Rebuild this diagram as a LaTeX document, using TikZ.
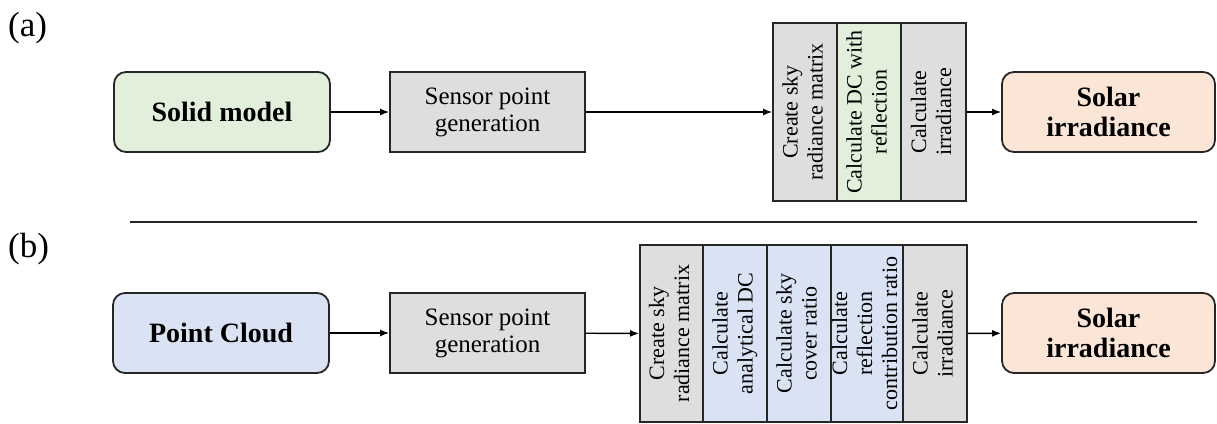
\documentclass[tikz,border=0pt]{standalone}
\usepackage{fontspec}
\setmainfont{Liberation Serif}
\usetikzlibrary{arrows.meta}

\definecolor{greyfill}{HTML}{DEDEDE}
\definecolor{greenfill}{HTML}{E2EFDA}
\definecolor{bluefill}{HTML}{DAE3F3}
\definecolor{pinkfill}{HTML}{FBE5D6}
\definecolor{edge}{HTML}{262626}

% vertical (bottom-to-top) multi-line label; zero width so the column keeps its set width
\newcommand{\vlabel}[1]{\makebox[0pt]{\rotatebox{90}{\fontsize{22}{25}\selectfont\begin{tabular}{@{}c@{}}#1\end{tabular}}}}

\begin{document}
\begin{tikzpicture}[x=1pt,y=-1pt,
  terminal/.style={draw=edge, line width=1.8pt, rounded corners=12pt,
    minimum height=80pt, inner sep=0pt, align=center,
    font=\fontsize{28}{30}\selectfont\bfseries},
  process/.style={draw=edge, line width=1.8pt, fill=greyfill,
    minimum height=80pt, minimum width=195pt, inner sep=0pt, align=center,
    font=\fontsize{25}{27}\selectfont},
  column/.style={draw=edge, line width=1.8pt, inner sep=0pt},
  flow/.style={line width=1.4pt, draw=black, -{Latex[length=9pt,width=7pt]}},
  tag/.style={anchor=west, inner sep=0pt, font=\fontsize{35}{36}\selectfont}
]
\useasboundingbox (0,0) rectangle (1217,423);

% ---------- (a) solid model workflow ----------
\node[tag] (taga) at (8,28) {(a)};
\node[terminal, fill=greenfill, minimum width=216pt] (solid) at (222,112) {Solid model};
\node[process] (sensa) at (487.5,112) {Sensor point\\generation};
\node[column, fill=greyfill,  minimum width=64pt, minimum height=178pt] (a1) at (805,112)
  {\vlabel{Create sky\\radiance matrix}};
\node[column, fill=greenfill, minimum width=64pt, minimum height=178pt] (a2) at (869,112)
  {\vlabel{Calculate DC with\\reflection}};
\node[column, fill=greyfill,  minimum width=65pt, minimum height=178pt] (a3) at (933.5,112)
  {\vlabel{Calculate\\irradiance}};
\node[terminal, fill=pinkfill, minimum width=213pt] (solara) at (1108.5,112) {Solar\\irradiance};

\draw[flow] (solid) -- (sensa);
\draw[flow] (sensa) -- (a1);
\draw[flow] (a3) -- (solara);

% ---------- divider ----------
\coordinate (divl) at (130,222);
\coordinate (divr) at (1197,222);
\draw[line width=2.2pt, draw=edge] (divl) -- (divr);

% ---------- (b) point cloud workflow ----------
\node[tag] (tagb) at (8,249) {(b)};
\node[terminal, fill=bluefill, minimum width=216pt] (cloud) at (221,333) {Point Cloud};
\node[process] (sensb) at (487.5,333) {Sensor point\\generation};
\node[column, fill=greyfill, minimum width=63pt, minimum height=177pt] (b1) at (671.5,333.5)
  {\vlabel{Create sky\\radiance matrix}};
\node[column, fill=bluefill, minimum width=64pt, minimum height=177pt] (b2) at (735,333.5)
  {\vlabel{Calculate\\analytical DC}};
\node[column, fill=bluefill, minimum width=64pt, minimum height=177pt] (b3) at (799,333.5)
  {\vlabel{Calculate sky\\cover ratio}};
\node[column, fill=bluefill, minimum width=72pt, minimum height=177pt] (b4) at (867,333.5)
  {\vlabel{Calculate\\reflection\\contribution ratio}};
\node[column, fill=greyfill, minimum width=64pt, minimum height=177pt] (b5) at (935,333.5)
  {\vlabel{Calculate\\irradiance}};
\node[terminal, fill=pinkfill, minimum width=213pt] (solarb) at (1108.5,333) {Solar\\irradiance};

\draw[flow] (cloud) -- (sensb);
\draw[flow] (sensb) -- (b1);
\draw[flow] (b5) -- (solarb);
\end{tikzpicture}
\end{document}
